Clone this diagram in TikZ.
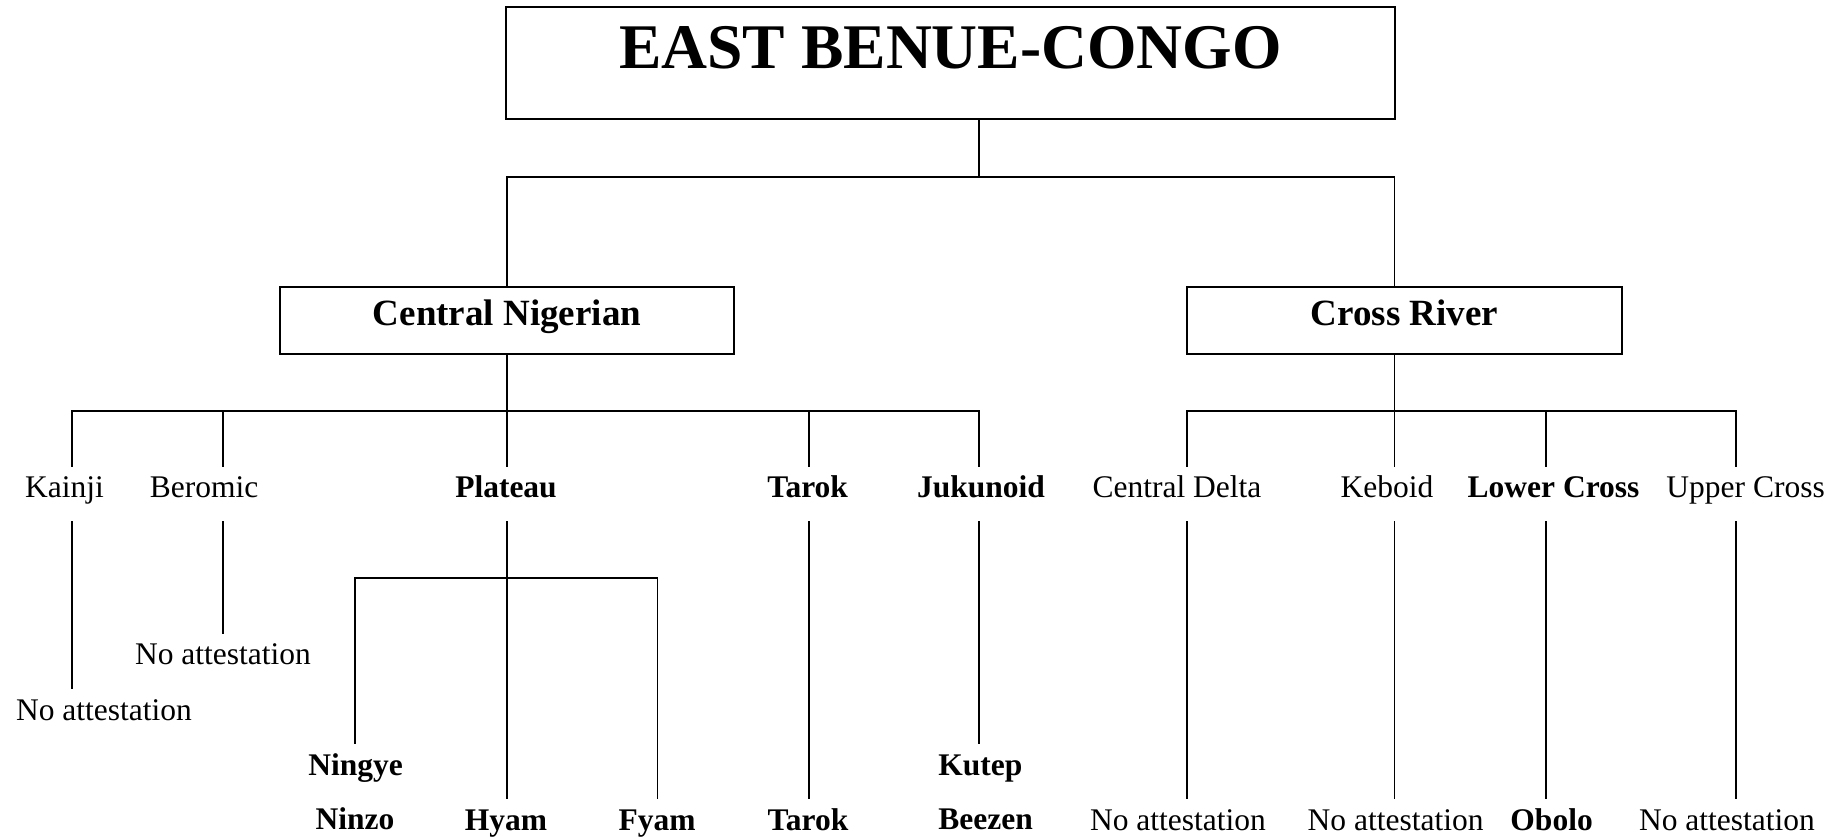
\documentclass[tikz,border=0pt]{standalone}
\usepackage{fontspec}
\setmainfont{Liberation Serif}
\begin{document}
\begin{tikzpicture}[x=0.5pt,y=-0.5pt,
  lbl/.style={inner sep=0pt, font=\fontsize{15.75}{18}\selectfont,
    text height=15.5pt, text depth=11.5pt, anchor=base},
  lblb/.style={lbl, font=\fontsize{15.75}{18}\selectfont\bfseries},
  groupbox/.style={draw, line width=1.2pt, inner sep=0pt, anchor=base,
    font=\fontsize{18.5}{22}\selectfont\bfseries,
    text height=19.5pt, text depth=14pt},
  rootbox/.style={draw, line width=1.2pt, inner sep=0pt, anchor=base,
    font=\fontsize{31.8}{36}\selectfont\bfseries,
    text height=31pt, text depth=25pt},
  link/.style={line width=0.8pt}]
\useasboundingbox (0,0) rectangle (1841,838);

% family boxes
\node[rootbox, minimum width=444.5pt] (root) at (950.5,69) {EAST BENUE-CONGO};
\node[groupbox, minimum width=227pt] (cn) at (507,326) {Central Nigerian};
\node[groupbox, minimum width=217.5pt] (cr) at (1404.4,326) {Cross River};

% branch labels
\node[lbl]  (kainji)  at (64.5,498)  {Kainji};
\node[lbl]  (beromic) at (204,498)   {Beromic};
\node[lblb] (plateau) at (506,498)   {Plateau};
\node[lblb] (tarok)   at (807.7,498) {Tarok};
\node[lblb] (juk)     at (981,498)   {Jukunoid};
\node[lbl]  (cdelta)  at (1177,498)  {Central Delta};
\node[lbl]  (keboid)  at (1387,498)  {Keboid};
\node[lblb] (lcross)  at (1553.6,498){Lower Cross};
\node[lbl]  (ucross)  at (1745.6,498){Upper Cross};

% languages
\node[lbl]  (na1)    at (104,720)    {No attestation};
\node[lbl]  (na2)    at (223,665)    {No attestation};
\node[lblb] (ningye) at (355.6,775.3){Ningye};
\node[lblb] (ninzo)  at (355,829)    {Ninzo};
\node[lblb] (hyam)   at (506,830)    {Hyam};
\node[lblb] (fyam)   at (657,830)    {Fyam};
\node[lblb] (tarok2) at (808,830)    {Tarok};
\node[lblb, anchor=base west] (kutep)  at (938,775.3) {Kutep};
\node[lblb, anchor=base west] (beezen) at (938,829)   {Beezen};
\node[lbl]  (na3)    at (1178,830)   {No attestation};
\node[lbl]  (na4)    at (1395.6,830) {No attestation};
\node[lblb] (obolo)  at (1551.6,830) {Obolo};
\node[lbl]  (na5)    at (1727,830)   {No attestation};

% junction points
\coordinate (j0) at (978.7,177);
\coordinate (jl) at (507,177);
\coordinate (jr) at (1394.6,177);
\coordinate (b1) at (72,411);
\coordinate (b2) at (223,411);
\coordinate (b3) at (507,411);
\coordinate (b4) at (809,411);
\coordinate (b5) at (978.7,411);
\coordinate (c1) at (1187,411);
\coordinate (c2) at (1394.6,411);
\coordinate (c3) at (1546,411);
\coordinate (c4) at (1736,411);
\coordinate (p1) at (355,578);
\coordinate (p2) at (657.6,578);

% top level
\draw[link] (j0 |- root.south) -- (j0);
\draw[link] (jl |- cn.north) -- (jl) -- (jr) -- (jr |- cr.north);

% Central Nigerian
\draw[link] (b3 |- cn.south) -- (b3);
\draw[link] (b1 |- kainji.north) -- (b1) -- (b5) -- (b5 |- juk.north);
\draw[link] (b2) -- (b2 |- beromic.north);
\draw[link] (b3) -- (b3 |- plateau.north);
\draw[link] (b4) -- (b4 |- tarok.north);

% Cross River
\draw[link] (c2 |- cr.south) -- (c2);
\draw[link] (c1 |- cdelta.north) -- (c1) -- (c4) -- (c4 |- ucross.north);
\draw[link] (c2) -- (c2 |- keboid.north);
\draw[link] (c3) -- (c3 |- lcross.north);

% down to the languages
\draw[link] (b1 |- kainji.south) -- (b1 |- na1.north);
\draw[link] (b2 |- beromic.south) -- (b2 |- na2.north);
\draw[link] (b3 |- plateau.south) -- (b3 |- hyam.north);
\draw[link] (p1 |- ningye.north) -- (p1) -- (p2) -- (p2 |- fyam.north);
\draw[link] (b4 |- tarok.south) -- (b4 |- tarok2.north);
\draw[link] (b5 |- juk.south) -- (b5 |- kutep.north);
\draw[link] (c1 |- cdelta.south) -- (c1 |- na3.north);
\draw[link] (c2 |- keboid.south) -- (c2 |- na4.north);
\draw[link] (c3 |- lcross.south) -- (c3 |- obolo.north);
\draw[link] (c4 |- ucross.south) -- (c4 |- na5.north);
\end{tikzpicture}
\end{document}
